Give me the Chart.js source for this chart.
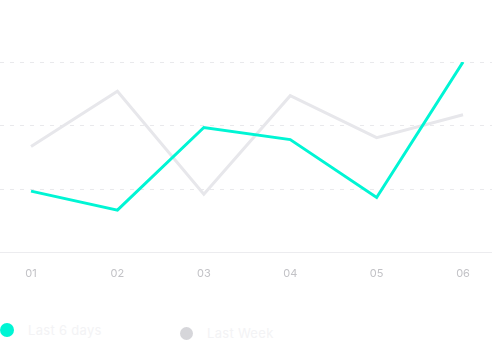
<!DOCTYPE html>
<html>
<head>
<meta charset="utf-8">
<script src="https://cdn.jsdelivr.net/npm/chart.js@4/dist/chart.umd.min.js"></script>
<style>
  html, body { margin: 0; padding: 0; background: #ffffff; }
  body { width: 492px; height: 341px; position: relative; overflow: hidden; font-family: "Inter", "Noto Sans", sans-serif; }
  #wrap { position: absolute; left: 0; top: 0; width: 492px; height: 294px; }
  .leg { position: absolute; display: flex; align-items: center; font-size: 13px; color: #f3f3f5; letter-spacing: 0.3px; }
  .dot { width: 14px; height: 14px; border-radius: 50%; margin-right: 14px; }
</style>
</head>
<body>
<div id="wrap"><canvas id="chart"></canvas></div>
<div class="leg" id="leg1" style="left:0px; top:322px;"><span class="dot" style="background:#00f5d4"></span><span id="t1"></span></div>
<div class="leg" id="leg2" style="left:180px; top:325px;"><span class="dot" style="background:#d6d6da; width:13px; height:13px;"></span><span id="t2"></span></div>
<script>
const labels = ['01', '02', '03', '04', '05', '06'];
const seriesNames = ['Last 6 days', 'Last Week'];
const last6Days = [9.7, 6.7, 19.7, 17.8, 8.7, 30];
const lastWeek = [16.7, 25.4, 9.2, 24.7, 18.1, 21.7];
const yTicks = [0, 10, 20, 30];

document.getElementById('t1').textContent = seriesNames[0];
document.getElementById('t2').textContent = seriesNames[1];

const toPoints = arr => arr.map((v, i) => ({ x: i + 1, y: v }));

new Chart(document.getElementById('chart'), {
  type: 'line',
  data: {
    datasets: [
      {
        label: seriesNames[0],
        data: toPoints(last6Days),
        borderColor: '#00f5d4',
        borderWidth: 3,
        pointRadius: 0,
        tension: 0,
        fill: false
      },
      {
        label: seriesNames[1],
        data: toPoints(lastWeek),
        borderColor: '#e7e7eb',
        borderWidth: 3,
        pointRadius: 0,
        tension: 0,
        fill: false
      }
    ]
  },
  options: {
    responsive: true,
    maintainAspectRatio: false,
    animation: false,
    layout: { padding: { top: 62, left: 0, right: 0, bottom: 0 } },
    plugins: { legend: { display: false }, tooltip: { enabled: false } },
    scales: {
      x: {
        type: 'linear',
        min: 0.641,
        max: 6.335,
        afterBuildTicks: axis => { axis.ticks = labels.map((_, i) => ({ value: i + 1 })); },
        grid: { display: false, drawTicks: false },
        border: { display: true, color: '#ececef', width: 1 },
        ticks: {
          color: '#c2c2c6',
          font: { family: 'Inter, "Noto Sans", sans-serif', size: 11 },
          padding: 14,
          maxRotation: 0,
          callback: v => labels[Math.round(v) - 1]
        }
      },
      y: {
        min: yTicks[0],
        max: yTicks[yTicks.length - 1],
        afterBuildTicks: axis => { axis.ticks = yTicks.map(v => ({ value: v })); },
        display: true,
        grid: {
          color: ctx => ctx.tick && ctx.tick.value === 0 ? 'rgba(0,0,0,0)' : '#e9e9ec',
          drawTicks: false,
          lineWidth: 1
        },
        border: { display: false, dash: [4, 6] },
        ticks: { display: false }
      }
    }
  }
});
</script>
</body>
</html>
